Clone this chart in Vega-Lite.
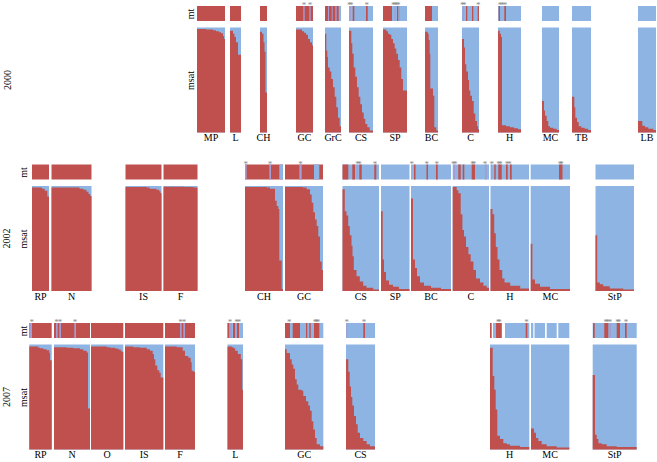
{
"$schema":"https://vega.github.io/schema/vega-lite/v6.json",
"autosize":{"type":"pad"},
"padding":{"left":1,"top":1,"right":0,"bottom":0},
"background":"white",
"spacing":16.5,
"datasets":{
"pops":[
{"r":2000,"p":"MP","s":169,"e":197},{"r":2000,"p":"L","s":202,"e":213},{"r":2000,"p":"CH","s":232,"e":239},{"r":2000,"p":"GC","s":268,"e":285},{"r":2000,"p":"GrC","s":297,"e":313},{"r":2000,"p":"CS","s":321,"e":345},{"r":2000,"p":"SP","s":355,"e":379},{"r":2000,"p":"BC","s":397,"e":410},{"r":2000,"p":"C","s":434,"e":451},{"r":2000,"p":"H","s":470,"e":493},{"r":2000,"p":"MC","s":514,"e":531},{"r":2000,"p":"TB","s":544,"e":563},{"r":2000,"p":"LB","s":610,"e":628},
{"r":2002,"p":"RP","s":4,"e":21},{"r":2002,"p":"N","s":23.5,"e":63.5},{"r":2002,"p":"IS","s":97.5,"e":133.5},{"r":2002,"p":"F","s":135.5,"e":169.5},{"r":2002,"p":"CH","s":217,"e":255},{"r":2002,"p":"GC","s":257,"e":295},{"r":2002,"p":"CS","s":314.5,"e":351},{"r":2002,"p":"SP","s":353,"e":381.5},{"r":2002,"p":"BC","s":383,"e":423},{"r":2002,"p":"C","s":424.7,"e":461},{"r":2002,"p":"H","s":462.5,"e":501},{"r":2002,"p":"MC","s":502.7,"e":542},{"r":2002,"p":"StP","s":567.5,"e":606},
{"r":2007,"p":"RP","s":1.3,"e":23.7},{"r":2007,"p":"N","s":26,"e":62},{"r":2007,"p":"O","s":63,"e":95.3},{"r":2007,"p":"IS","s":97,"e":135.3},{"r":2007,"p":"F","s":137,"e":167},{"r":2007,"p":"L","s":199.5,"e":215},{"r":2007,"p":"GC","s":257,"e":295.3},{"r":2007,"p":"CS","s":318,"e":347},{"r":2007,"p":"H","s":462,"e":501.3},{"r":2007,"p":"MC","s":503,"e":541.3},{"r":2007,"p":"StP","s":564.7,"e":608.7}
],
"msat":[
{"r":2000,"p":"MP","x":169,"q":0.985},{"r":2000,"p":"MP","x":178,"q":0.98},{"r":2000,"p":"MP","x":185,"q":0.975},{"r":2000,"p":"MP","x":188,"q":0.965},{"r":2000,"p":"MP","x":191,"q":0.955},{"r":2000,"p":"MP","x":193,"q":0.945},{"r":2000,"p":"MP","x":195,"q":0.92},{"r":2000,"p":"MP","x":196,"q":0.89},{"r":2000,"p":"MP","x":197,"q":0.89},
{"r":2000,"p":"L","x":202,"q":0.97},{"r":2000,"p":"L","x":205,"q":0.94},{"r":2000,"p":"L","x":206.5,"q":0.91},{"r":2000,"p":"L","x":208,"q":0.86},{"r":2000,"p":"L","x":210,"q":0.74},{"r":2000,"p":"L","x":213,"q":0.74},
{"r":2000,"p":"CH","x":232,"q":0.96},{"r":2000,"p":"CH","x":234,"q":0.94},{"r":2000,"p":"CH","x":235.5,"q":0.86},{"r":2000,"p":"CH","x":236.5,"q":0.77},{"r":2000,"p":"CH","x":237.5,"q":0.38},{"r":2000,"p":"CH","x":239,"q":0.38},
{"r":2000,"p":"GC","x":268,"q":0.98},{"r":2000,"p":"GC","x":274,"q":0.965},{"r":2000,"p":"GC","x":276,"q":0.95},{"r":2000,"p":"GC","x":278,"q":0.93},{"r":2000,"p":"GC","x":280,"q":0.89},{"r":2000,"p":"GC","x":282,"q":0.86},{"r":2000,"p":"GC","x":284,"q":0.83},{"r":2000,"p":"GC","x":285,"q":0.83},
{"r":2000,"p":"GrC","x":297,"q":0.94},{"r":2000,"p":"GrC","x":298.3,"q":0.78},{"r":2000,"p":"GrC","x":299.3,"q":0.72},{"r":2000,"p":"GrC","x":300,"q":0.62},{"r":2000,"p":"GrC","x":301.7,"q":0.58},{"r":2000,"p":"GrC","x":303.3,"q":0.51},{"r":2000,"p":"GrC","x":305,"q":0.43},{"r":2000,"p":"GrC","x":306.7,"q":0.34},{"r":2000,"p":"GrC","x":308.3,"q":0.24},{"r":2000,"p":"GrC","x":310,"q":0.14},{"r":2000,"p":"GrC","x":311.7,"q":0.06},{"r":2000,"p":"GrC","x":313,"q":0.06},
{"r":2000,"p":"CS","x":321,"q":0.97},{"r":2000,"p":"CS","x":323.3,"q":0.85},{"r":2000,"p":"CS","x":324.3,"q":0.75},{"r":2000,"p":"CS","x":325.7,"q":0.62},{"r":2000,"p":"CS","x":327.3,"q":0.53},{"r":2000,"p":"CS","x":329,"q":0.43},{"r":2000,"p":"CS","x":330.7,"q":0.34},{"r":2000,"p":"CS","x":332.3,"q":0.27},{"r":2000,"p":"CS","x":334,"q":0.19},{"r":2000,"p":"CS","x":335.7,"q":0.13},{"r":2000,"p":"CS","x":337.3,"q":0.08},{"r":2000,"p":"CS","x":339.3,"q":0.05},{"r":2000,"p":"CS","x":341.7,"q":0.02},{"r":2000,"p":"CS","x":345,"q":0.02},
{"r":2000,"p":"SP","x":355,"q":0.98},{"r":2000,"p":"SP","x":358.3,"q":0.965},{"r":2000,"p":"SP","x":360,"q":0.94},{"r":2000,"p":"SP","x":361.7,"q":0.93},{"r":2000,"p":"SP","x":363.3,"q":0.89},{"r":2000,"p":"SP","x":365,"q":0.85},{"r":2000,"p":"SP","x":366.7,"q":0.8},{"r":2000,"p":"SP","x":368.3,"q":0.75},{"r":2000,"p":"SP","x":370,"q":0.69},{"r":2000,"p":"SP","x":371.7,"q":0.62},{"r":2000,"p":"SP","x":373.3,"q":0.51},{"r":2000,"p":"SP","x":375,"q":0.4},{"r":2000,"p":"SP","x":379,"q":0.4},
{"r":2000,"p":"BC","x":397,"q":0.96},{"r":2000,"p":"BC","x":399.7,"q":0.94},{"r":2000,"p":"BC","x":400.7,"q":0.88},{"r":2000,"p":"BC","x":401.7,"q":0.75},{"r":2000,"p":"BC","x":402.3,"q":0.42},{"r":2000,"p":"BC","x":405,"q":0.35},{"r":2000,"p":"BC","x":406.3,"q":0.05},{"r":2000,"p":"BC","x":408.3,"q":0.02},{"r":2000,"p":"BC","x":410,"q":0.02},
{"r":2000,"p":"C","x":434,"q":0.89},{"r":2000,"p":"C","x":436,"q":0.81},{"r":2000,"p":"C","x":437,"q":0.65},{"r":2000,"p":"C","x":438.3,"q":0.58},{"r":2000,"p":"C","x":440,"q":0.5},{"r":2000,"p":"C","x":441,"q":0.4},{"r":2000,"p":"C","x":442.3,"q":0.35},{"r":2000,"p":"C","x":444,"q":0.3},{"r":2000,"p":"C","x":445.7,"q":0.18},{"r":2000,"p":"C","x":447.3,"q":0.11},{"r":2000,"p":"C","x":449,"q":0.06},{"r":2000,"p":"C","x":450,"q":0.03},{"r":2000,"p":"C","x":451,"q":0.03},
{"r":2000,"p":"H","x":470,"q":0.97},{"r":2000,"p":"H","x":471.7,"q":0.94},{"r":2000,"p":"H","x":473,"q":0.91},{"r":2000,"p":"H","x":474,"q":0.07},{"r":2000,"p":"H","x":478,"q":0.06},{"r":2000,"p":"H","x":482,"q":0.05},{"r":2000,"p":"H","x":486,"q":0.04},{"r":2000,"p":"H","x":490,"q":0.03},{"r":2000,"p":"H","x":493,"q":0.03},
{"r":2000,"p":"MC","x":514,"q":0.3},{"r":2000,"p":"MC","x":516,"q":0.21},{"r":2000,"p":"MC","x":517,"q":0.16},{"r":2000,"p":"MC","x":518.7,"q":0.11},{"r":2000,"p":"MC","x":520.3,"q":0.06},{"r":2000,"p":"MC","x":522,"q":0.045},{"r":2000,"p":"MC","x":525.3,"q":0.035},{"r":2000,"p":"MC","x":528.7,"q":0.025},{"r":2000,"p":"MC","x":531,"q":0.025},
{"r":2000,"p":"TB","x":544,"q":0.34},{"r":2000,"p":"TB","x":546.3,"q":0.24},{"r":2000,"p":"TB","x":547.3,"q":0.14},{"r":2000,"p":"TB","x":549,"q":0.1},{"r":2000,"p":"TB","x":550.7,"q":0.06},{"r":2000,"p":"TB","x":553.3,"q":0.045},{"r":2000,"p":"TB","x":556.7,"q":0.035},{"r":2000,"p":"TB","x":560,"q":0.025},{"r":2000,"p":"TB","x":563,"q":0.025},
{"r":2000,"p":"LB","x":610,"q":0.11},{"r":2000,"p":"LB","x":614.3,"q":0.065},{"r":2000,"p":"LB","x":617,"q":0.05},{"r":2000,"p":"LB","x":620.3,"q":0.035},{"r":2000,"p":"LB","x":625.3,"q":0.025},{"r":2000,"p":"LB","x":628,"q":0.025},
{"r":2002,"p":"RP","x":4,"q":0.985},{"r":2002,"p":"RP","x":14,"q":0.975},{"r":2002,"p":"RP","x":16.7,"q":0.955},{"r":2002,"p":"RP","x":19.3,"q":0.9},{"r":2002,"p":"RP","x":21,"q":0.9},
{"r":2002,"p":"N","x":23.5,"q":0.985},{"r":2002,"p":"N","x":51.5,"q":0.975},{"r":2002,"p":"N","x":55.5,"q":0.965},{"r":2002,"p":"N","x":58.5,"q":0.945},{"r":2002,"p":"N","x":60.5,"q":0.925},{"r":2002,"p":"N","x":62.2,"q":0.905},{"r":2002,"p":"N","x":63.5,"q":0.905},
{"r":2002,"p":"IS","x":97.5,"q":0.99},{"r":2002,"p":"IS","x":118.5,"q":0.985},{"r":2002,"p":"IS","x":121.5,"q":0.975},{"r":2002,"p":"IS","x":128.5,"q":0.965},{"r":2002,"p":"IS","x":131.2,"q":0.95},{"r":2002,"p":"IS","x":132.5,"q":0.93},{"r":2002,"p":"IS","x":133.5,"q":0.93},
{"r":2002,"p":"F","x":135.5,"q":0.992},{"r":2002,"p":"F","x":155.5,"q":0.99},{"r":2002,"p":"F","x":165.5,"q":0.985},{"r":2002,"p":"F","x":169.5,"q":0.985},
{"r":2002,"p":"CH","x":217,"q":0.99},{"r":2002,"p":"CH","x":238.7,"q":0.985},{"r":2002,"p":"CH","x":242,"q":0.975},{"r":2002,"p":"CH","x":247,"q":0.86},{"r":2002,"p":"CH","x":248.7,"q":0.81},{"r":2002,"p":"CH","x":250.3,"q":0.78},{"r":2002,"p":"CH","x":251.3,"q":0.29},{"r":2002,"p":"CH","x":253.7,"q":0.02},{"r":2002,"p":"CH","x":255,"q":0.02},
{"r":2002,"p":"GC","x":257,"q":0.99},{"r":2002,"p":"GC","x":275,"q":0.985},{"r":2002,"p":"GC","x":278.7,"q":0.97},{"r":2002,"p":"GC","x":282,"q":0.92},{"r":2002,"p":"GC","x":283.7,"q":0.84},{"r":2002,"p":"GC","x":285.3,"q":0.75},{"r":2002,"p":"GC","x":287,"q":0.68},{"r":2002,"p":"GC","x":288.7,"q":0.62},{"r":2002,"p":"GC","x":290.3,"q":0.52},{"r":2002,"p":"GC","x":292,"q":0.28},{"r":2002,"p":"GC","x":293.7,"q":0.2},{"r":2002,"p":"GC","x":295,"q":0.2},
{"r":2002,"p":"CS","x":314.5,"q":0.97},{"r":2002,"p":"CS","x":316.8,"q":0.76},{"r":2002,"p":"CS","x":318.5,"q":0.72},{"r":2002,"p":"CS","x":320.2,"q":0.62},{"r":2002,"p":"CS","x":321.8,"q":0.53},{"r":2002,"p":"CS","x":323.5,"q":0.43},{"r":2002,"p":"CS","x":324.5,"q":0.33},{"r":2002,"p":"CS","x":325.8,"q":0.2},{"r":2002,"p":"CS","x":328.5,"q":0.14},{"r":2002,"p":"CS","x":331.8,"q":0.09},{"r":2002,"p":"CS","x":335.2,"q":0.05},{"r":2002,"p":"CS","x":338.5,"q":0.03},{"r":2002,"p":"CS","x":345.2,"q":0.015},{"r":2002,"p":"CS","x":351,"q":0.015},
{"r":2002,"p":"SP","x":353,"q":0.76},{"r":2002,"p":"SP","x":354.7,"q":0.3},{"r":2002,"p":"SP","x":356,"q":0.18},{"r":2002,"p":"SP","x":358,"q":0.1},{"r":2002,"p":"SP","x":361,"q":0.06},{"r":2002,"p":"SP","x":365,"q":0.04},{"r":2002,"p":"SP","x":371,"q":0.02},{"r":2002,"p":"SP","x":381.5,"q":0.02},
{"r":2002,"p":"BC","x":383,"q":0.88},{"r":2002,"p":"BC","x":385,"q":0.3},{"r":2002,"p":"BC","x":387,"q":0.22},{"r":2002,"p":"BC","x":389,"q":0.14},{"r":2002,"p":"BC","x":392,"q":0.08},{"r":2002,"p":"BC","x":396,"q":0.05},{"r":2002,"p":"BC","x":403,"q":0.03},{"r":2002,"p":"BC","x":413,"q":0.02},{"r":2002,"p":"BC","x":423,"q":0.02},
{"r":2002,"p":"C","x":424.7,"q":0.99},{"r":2002,"p":"C","x":428.7,"q":0.96},{"r":2002,"p":"C","x":430.4,"q":0.93},{"r":2002,"p":"C","x":432.7,"q":0.73},{"r":2002,"p":"C","x":434.4,"q":0.58},{"r":2002,"p":"C","x":436,"q":0.52},{"r":2002,"p":"C","x":438,"q":0.42},{"r":2002,"p":"C","x":440.4,"q":0.35},{"r":2002,"p":"C","x":442.7,"q":0.28},{"r":2002,"p":"C","x":445.4,"q":0.2},{"r":2002,"p":"C","x":448,"q":0.12},{"r":2002,"p":"C","x":452,"q":0.08},{"r":2002,"p":"C","x":455.4,"q":0.05},{"r":2002,"p":"C","x":458.7,"q":0.03},{"r":2002,"p":"C","x":461,"q":0.03},
{"r":2002,"p":"H","x":462.5,"q":0.78},{"r":2002,"p":"H","x":464.5,"q":0.73},{"r":2002,"p":"H","x":466.2,"q":0.55},{"r":2002,"p":"H","x":467.8,"q":0.42},{"r":2002,"p":"H","x":469.5,"q":0.3},{"r":2002,"p":"H","x":471.5,"q":0.2},{"r":2002,"p":"H","x":474.2,"q":0.12},{"r":2002,"p":"H","x":476.5,"q":0.08},{"r":2002,"p":"H","x":482.2,"q":0.05},{"r":2002,"p":"H","x":492.2,"q":0.025},{"r":2002,"p":"H","x":501,"q":0.025},
{"r":2002,"p":"MC","x":502.7,"q":0.45},{"r":2002,"p":"MC","x":504.4,"q":0.11},{"r":2002,"p":"MC","x":507,"q":0.07},{"r":2002,"p":"MC","x":512,"q":0.04},{"r":2002,"p":"MC","x":522,"q":0.02},{"r":2002,"p":"MC","x":542,"q":0.02},
{"r":2002,"p":"StP","x":567.5,"q":0.53},{"r":2002,"p":"StP","x":569.2,"q":0.08},{"r":2002,"p":"StP","x":571.8,"q":0.065},{"r":2002,"p":"StP","x":575.2,"q":0.045},{"r":2002,"p":"StP","x":581.8,"q":0.025},{"r":2002,"p":"StP","x":595.2,"q":0.015},{"r":2002,"p":"StP","x":606,"q":0.015},
{"r":2007,"p":"RP","x":1.3,"q":0.98},{"r":2007,"p":"RP","x":10.3,"q":0.97},{"r":2007,"p":"RP","x":12,"q":0.965},{"r":2007,"p":"RP","x":15.3,"q":0.955},{"r":2007,"p":"RP","x":18.6,"q":0.945},{"r":2007,"p":"RP","x":21.3,"q":0.92},{"r":2007,"p":"RP","x":22,"q":0.85},{"r":2007,"p":"RP","x":23.7,"q":0.85},
{"r":2007,"p":"N","x":26,"q":0.975},{"r":2007,"p":"N","x":38.7,"q":0.97},{"r":2007,"p":"N","x":45.3,"q":0.965},{"r":2007,"p":"N","x":52,"q":0.955},{"r":2007,"p":"N","x":55.3,"q":0.94},{"r":2007,"p":"N","x":58.7,"q":0.925},{"r":2007,"p":"N","x":60,"q":0.39},{"r":2007,"p":"N","x":62,"q":0.39},
{"r":2007,"p":"O","x":63,"q":0.98},{"r":2007,"p":"O","x":78.7,"q":0.975},{"r":2007,"p":"O","x":82,"q":0.97},{"r":2007,"p":"O","x":87,"q":0.962},{"r":2007,"p":"O","x":90.3,"q":0.952},{"r":2007,"p":"O","x":92.7,"q":0.94},{"r":2007,"p":"O","x":93.7,"q":0.93},{"r":2007,"p":"O","x":95.3,"q":0.93},
{"r":2007,"p":"IS","x":97,"q":0.98},{"r":2007,"p":"IS","x":105.3,"q":0.975},{"r":2007,"p":"IS","x":112,"q":0.97},{"r":2007,"p":"IS","x":118.7,"q":0.955},{"r":2007,"p":"IS","x":122,"q":0.94},{"r":2007,"p":"IS","x":124.7,"q":0.91},{"r":2007,"p":"IS","x":126,"q":0.86},{"r":2007,"p":"IS","x":127.3,"q":0.8},{"r":2007,"p":"IS","x":129.3,"q":0.755},{"r":2007,"p":"IS","x":131.3,"q":0.73},{"r":2007,"p":"IS","x":132.7,"q":0.685},{"r":2007,"p":"IS","x":135.3,"q":0.685},
{"r":2007,"p":"F","x":137,"q":0.98},{"r":2007,"p":"F","x":148.7,"q":0.975},{"r":2007,"p":"F","x":154.7,"q":0.94},{"r":2007,"p":"F","x":157,"q":0.89},{"r":2007,"p":"F","x":160.3,"q":0.875},{"r":2007,"p":"F","x":162.7,"q":0.83},{"r":2007,"p":"F","x":163.7,"q":0.75},{"r":2007,"p":"F","x":165.3,"q":0.74},{"r":2007,"p":"F","x":167,"q":0.74},
{"r":2007,"p":"L","x":199.5,"q":0.98},{"r":2007,"p":"L","x":203.8,"q":0.975},{"r":2007,"p":"L","x":205.5,"q":0.965},{"r":2007,"p":"L","x":207.2,"q":0.94},{"r":2007,"p":"L","x":209.8,"q":0.91},{"r":2007,"p":"L","x":212.8,"q":0.86},{"r":2007,"p":"L","x":214.2,"q":0.57},{"r":2007,"p":"L","x":215,"q":0.57},
{"r":2007,"p":"GC","x":257,"q":0.955},{"r":2007,"p":"GC","x":258.7,"q":0.92},{"r":2007,"p":"GC","x":262,"q":0.86},{"r":2007,"p":"GC","x":263.7,"q":0.81},{"r":2007,"p":"GC","x":265.3,"q":0.77},{"r":2007,"p":"GC","x":267,"q":0.67},{"r":2007,"p":"GC","x":268.7,"q":0.62},{"r":2007,"p":"GC","x":270.3,"q":0.57},{"r":2007,"p":"GC","x":273.7,"q":0.56},{"r":2007,"p":"GC","x":275.3,"q":0.51},{"r":2007,"p":"GC","x":278,"q":0.46},{"r":2007,"p":"GC","x":280.3,"q":0.42},{"r":2007,"p":"GC","x":282,"q":0.37},{"r":2007,"p":"GC","x":283.7,"q":0.27},{"r":2007,"p":"GC","x":285.3,"q":0.19},{"r":2007,"p":"GC","x":287,"q":0.11},{"r":2007,"p":"GC","x":288.7,"q":0.05},{"r":2007,"p":"GC","x":292,"q":0.03},{"r":2007,"p":"GC","x":295.3,"q":0.03},
{"r":2007,"p":"CS","x":318,"q":0.86},{"r":2007,"p":"CS","x":320.3,"q":0.74},{"r":2007,"p":"CS","x":321.7,"q":0.6},{"r":2007,"p":"CS","x":323,"q":0.5},{"r":2007,"p":"CS","x":324.3,"q":0.42},{"r":2007,"p":"CS","x":326,"q":0.32},{"r":2007,"p":"CS","x":328,"q":0.24},{"r":2007,"p":"CS","x":329.7,"q":0.16},{"r":2007,"p":"CS","x":332,"q":0.11},{"r":2007,"p":"CS","x":335.3,"q":0.08},{"r":2007,"p":"CS","x":338.7,"q":0.05},{"r":2007,"p":"CS","x":342,"q":0.03},{"r":2007,"p":"CS","x":347,"q":0.03},
{"r":2007,"p":"H","x":462,"q":0.97},{"r":2007,"p":"H","x":464.7,"q":0.7},{"r":2007,"p":"H","x":466.3,"q":0.57},{"r":2007,"p":"H","x":467.7,"q":0.38},{"r":2007,"p":"H","x":469.3,"q":0.13},{"r":2007,"p":"H","x":472,"q":0.1},{"r":2007,"p":"H","x":475.3,"q":0.06},{"r":2007,"p":"H","x":478.7,"q":0.05},{"r":2007,"p":"H","x":482,"q":0.035},{"r":2007,"p":"H","x":492,"q":0.025},{"r":2007,"p":"H","x":501.3,"q":0.025},
{"r":2007,"p":"MC","x":503,"q":0.2},{"r":2007,"p":"MC","x":506,"q":0.16},{"r":2007,"p":"MC","x":508,"q":0.11},{"r":2007,"p":"MC","x":510.3,"q":0.08},{"r":2007,"p":"MC","x":513.7,"q":0.05},{"r":2007,"p":"MC","x":518.7,"q":0.03},{"r":2007,"p":"MC","x":528.7,"q":0.02},{"r":2007,"p":"MC","x":541.3,"q":0.02},
{"r":2007,"p":"StP","x":564.7,"q":0.71},{"r":2007,"p":"StP","x":567,"q":0.14},{"r":2007,"p":"StP","x":568.7,"q":0.1},{"r":2007,"p":"StP","x":570.4,"q":0.06},{"r":2007,"p":"StP","x":573.7,"q":0.05},{"r":2007,"p":"StP","x":578.7,"q":0.03},{"r":2007,"p":"StP","x":588.7,"q":0.025},{"r":2007,"p":"StP","x":608.7,"q":0.025}
],
"mt":[
{"r":2000,"a":169,"b":197,"h":"R"},{"r":2000,"a":202,"b":213,"h":"R"},{"r":2000,"a":232,"b":239,"h":"R"},
{"r":2000,"a":268,"b":285,"h":"R"},{"r":2000,"a":275.3,"b":276.7,"h":"M"},{"r":2000,"a":281.3,"b":282.7,"h":"M"},
{"r":2000,"a":297,"b":313,"h":"R"},{"r":2000,"a":300,"b":301,"h":"M"},{"r":2000,"a":303.7,"b":304.7,"h":"M"},{"r":2000,"a":307.3,"b":308.7,"h":"M"},{"r":2000,"a":310.7,"b":313,"h":"B"},
{"r":2000,"a":321,"b":345,"h":"B"},{"r":2000,"a":321.3,"b":322.7,"h":"M"},{"r":2000,"a":324.7,"b":326.3,"h":"R"},{"r":2000,"a":338,"b":339.7,"h":"R"},
{"r":2000,"a":355,"b":364,"h":"R"},{"r":2000,"a":364,"b":379,"h":"B"},{"r":2000,"a":366.5,"b":367.5,"h":"M"},{"r":2000,"a":369,"b":370.3,"h":"R"},{"r":2000,"a":371,"b":372,"h":"M"},
{"r":2000,"a":397,"b":404,"h":"R"},{"r":2000,"a":404,"b":410,"h":"B"},
{"r":2000,"a":434,"b":451,"h":"B"},{"r":2000,"a":434.7,"b":435.7,"h":"M"},{"r":2000,"a":438,"b":439.3,"h":"R"},{"r":2000,"a":444,"b":445.3,"h":"R"},{"r":2000,"a":449.7,"b":451,"h":"R"},
{"r":2000,"a":470,"b":493,"h":"B"},{"r":2000,"a":470.7,"b":472,"h":"R"},{"r":2000,"a":476.3,"b":478,"h":"R"},
{"r":2000,"a":514,"b":531,"h":"B"},{"r":2000,"a":544,"b":563,"h":"B"},{"r":2000,"a":610,"b":628,"h":"B"},
{"r":2002,"a":4,"b":21,"h":"R"},{"r":2002,"a":23.5,"b":63.5,"h":"R"},{"r":2002,"a":97.5,"b":133.5,"h":"R"},{"r":2002,"a":135.5,"b":169.5,"h":"R"},
{"r":2002,"a":217,"b":255,"h":"R"},{"r":2002,"a":217,"b":218.7,"h":"M"},{"r":2002,"a":241.3,"b":243,"h":"M"},{"r":2002,"a":251.3,"b":255,"h":"B"},
{"r":2002,"a":257,"b":295,"h":"R"},{"r":2002,"a":271.3,"b":273.7,"h":"M"},{"r":2002,"a":286,"b":291.3,"h":"B"},
{"r":2002,"a":314.5,"b":351,"h":"B"},{"r":2002,"a":314.5,"b":320.3,"h":"R"},{"r":2002,"a":324.3,"b":327,"h":"R"},{"r":2002,"a":328.7,"b":329.7,"h":"M"},{"r":2002,"a":331.3,"b":333.7,"h":"R"},{"r":2002,"a":346.3,"b":348.3,"h":"R"},
{"r":2002,"a":353,"b":381.5,"h":"B"},
{"r":2002,"a":383,"b":423,"h":"B"},{"r":2002,"a":386,"b":387.5,"h":"R"},{"r":2002,"a":398.5,"b":400,"h":"R"},{"r":2002,"a":408,"b":409.7,"h":"R"},
{"r":2002,"a":424.7,"b":461,"h":"B"},{"r":2002,"a":425.3,"b":427,"h":"M"},{"r":2002,"a":430.3,"b":432.7,"h":"R"},{"r":2002,"a":434.7,"b":436.3,"h":"R"},{"r":2002,"a":443.7,"b":447,"h":"R"},{"r":2002,"a":457,"b":458.7,"h":"M"},
{"r":2002,"a":462.5,"b":501,"h":"B"},{"r":2002,"a":463,"b":464,"h":"M"},{"r":2002,"a":466.3,"b":467.7,"h":"R"},{"r":2002,"a":470.3,"b":473.7,"h":"R"},{"r":2002,"a":478,"b":479.7,"h":"R"},{"r":2002,"a":482,"b":483.7,"h":"R"},
{"r":2002,"a":502.7,"b":542,"h":"B"},{"r":2002,"a":531,"b":534.5,"h":"R"},
{"r":2002,"a":567.5,"b":606,"h":"B"},
{"r":2007,"a":1.3,"b":23.7,"h":"R"},{"r":2007,"a":2,"b":4,"h":"M"},
{"r":2007,"a":26,"b":62,"h":"R"},{"r":2007,"a":28,"b":29.7,"h":"M"},{"r":2007,"a":31.3,"b":33,"h":"M"},{"r":2007,"a":46.3,"b":48,"h":"M"},
{"r":2007,"a":63,"b":95.3,"h":"R"},{"r":2007,"a":97,"b":135.3,"h":"R"},
{"r":2007,"a":137,"b":167,"h":"R"},{"r":2007,"a":152,"b":153.7,"h":"M"},{"r":2007,"a":155.3,"b":157,"h":"M"},
{"r":2007,"a":199.5,"b":215,"h":"B"},{"r":2007,"a":199.5,"b":201.3,"h":"R"},{"r":2007,"a":202,"b":204,"h":"M"},{"r":2007,"a":205,"b":207,"h":"R"},{"r":2007,"a":207,"b":208.5,"h":"M"},{"r":2007,"a":209,"b":211,"h":"R"},
{"r":2007,"a":257,"b":295.3,"h":"B"},{"r":2007,"a":257,"b":262,"h":"R"},{"r":2007,"a":264.7,"b":272,"h":"R"},{"r":2007,"a":278,"b":279.3,"h":"R"},{"r":2007,"a":281.3,"b":282.7,"h":"R"},{"r":2007,"a":286,"b":291.3,"h":"R"},
{"r":2007,"a":318,"b":347,"h":"B"},{"r":2007,"a":318.3,"b":319.5,"h":"M"},{"r":2007,"a":335.3,"b":337,"h":"R"},
{"r":2007,"a":462,"b":463.7,"h":"R"},{"r":2007,"a":465,"b":473.7,"h":"B"},{"r":2007,"a":468,"b":473.7,"h":"R"},{"r":2007,"a":477,"b":501.3,"h":"B"},{"r":2007,"a":497.7,"b":499.3,"h":"R"},
{"r":2007,"a":503,"b":505.3,"h":"B"},{"r":2007,"a":506.5,"b":517,"h":"B"},{"r":2007,"a":518.7,"b":528.7,"h":"B"},{"r":2007,"a":530.3,"b":541.3,"h":"B"},
{"r":2007,"a":564.7,"b":608.7,"h":"B"},{"r":2007,"a":565,"b":566.7,"h":"R"},{"r":2007,"a":576.3,"b":580.3,"h":"R"},{"r":2007,"a":581.3,"b":583,"h":"M"},{"r":2007,"a":588.7,"b":592,"h":"R"},{"r":2007,"a":597,"b":598.7,"h":"R"}
],
"ast":[
{"r":2000,"x":276},{"r":2000,"x":282},{"r":2000,"x":321.3},{"r":2000,"x":323.3},{"r":2000,"x":338.7},{"r":2000,"x":365.3},{"r":2000,"x":367},{"r":2000,"x":368.7},{"r":2000,"x":370.3},{"r":2000,"x":434.3},{"r":2000,"x":436.3},{"r":2000,"x":450.3},{"r":2000,"x":472},{"r":2000,"x":474.3},{"r":2000,"x":477},
{"r":2002,"x":217.8},{"r":2002,"x":242},{"r":2002,"x":272.5},{"r":2002,"x":329.5},{"r":2002,"x":331.5},{"r":2002,"x":347},{"r":2002,"x":383.7},{"r":2002,"x":398.7},{"r":2002,"x":408.7},{"r":2002,"x":425.3},{"r":2002,"x":427.3},{"r":2002,"x":444.5},{"r":2002,"x":446},{"r":2002,"x":457},{"r":2002,"x":463.7},{"r":2002,"x":470.5},{"r":2002,"x":472.5},{"r":2002,"x":479},{"r":2002,"x":481.5},{"r":2002,"x":532},{"r":2002,"x":533.5},
{"r":2007,"x":3.7},{"r":2007,"x":28.5},{"r":2007,"x":32},{"r":2007,"x":47},{"r":2007,"x":152.5},{"r":2007,"x":156},{"r":2007,"x":202},{"r":2007,"x":208.5},{"r":2007,"x":211},{"r":2007,"x":261.3},{"r":2007,"x":287},{"r":2007,"x":288.5},{"r":2007,"x":290},{"r":2007,"x":318.7},{"r":2007,"x":336},{"r":2007,"x":470},{"r":2007,"x":471.5},{"r":2007,"x":498.5},{"r":2007,"x":577.7},{"r":2007,"x":579.5},{"r":2007,"x":582},{"r":2007,"x":589.5},{"r":2007,"x":591},{"r":2007,"x":598}
]
},
"vconcat":[
{"bounds":"flush","spacing":6.5,"vconcat":[
 {"width":629,"height":15,"layer":[
  {"data":{"name":"mt"},"transform":[{"filter":"datum.r == 2000"}],"mark":{"type":"rect"},
   "encoding":{"x":{"field":"a","type":"quantitative","scale":{"domain":[0,629],"nice":false,"zero":false},"axis":null},"x2":{"field":"b"},
   "y":{"datum":0,"type":"quantitative","scale":{"domain":[0,1],"nice":false},"axis":{"title":"mt","offset":-167}},"y2":{"datum":1},
   "color":{"field":"h","type":"nominal","scale":{"domain":["R","B","M"],"range":["#c0504d","#8db4e2","#a29dd2"]},"legend":null}}},
  {"data":{"name":"ast"},"transform":[{"filter":"datum.r == 2000"}],"mark":{"type":"text","text":"*","baseline":"alphabetic","dy":2,"fontSize":9,"color":"#8a8a8a"},
   "encoding":{"x":{"field":"x","type":"quantitative","scale":{"domain":[0,629],"nice":false,"zero":false},"axis":null},"y":{"datum":1,"type":"quantitative","axis":{"title":"mt","offset":-167}}}}
 ]},
 {"width":629,"height":105,"title":{"text":"2000","orient":"left","frame":"group","anchor":"middle","baseline":"alphabetic","offset":7.5},"layer":[
  {"data":{"name":"pops"},"transform":[{"filter":"datum.r == 2000"}],"mark":{"type":"rect","color":"#8db4e2"},
   "encoding":{"x":{"field":"s","type":"quantitative","scale":{"domain":[0,629],"nice":false,"zero":false},"axis":null},"x2":{"field":"e"},
   "y":{"datum":0,"type":"quantitative","scale":{"domain":[0,1],"nice":false},"axis":{"title":"msat","offset":-167}},"y2":{"datum":1}}},
  {"data":{"name":"msat"},"transform":[{"filter":"datum.r == 2000"}],"mark":{"type":"area","interpolate":"step-after","color":"#c0504d"},
   "encoding":{"x":{"field":"x","type":"quantitative","scale":{"domain":[0,629],"nice":false,"zero":false},"axis":null},
   "y":{"field":"q","type":"quantitative","stack":null,"axis":{"title":"msat","offset":-167}},"detail":{"field":"p","type":"nominal"}}},
  {"data":{"name":"pops"},"transform":[{"filter":"datum.r == 2000"},{"fold":["s","e"]}],"mark":{"type":"text","baseline":"top","dy":0.5,"fontSize":10,"color":"black"},
   "encoding":{"x":{"field":"value","aggregate":"mean","type":"quantitative","scale":{"domain":[0,629],"nice":false,"zero":false},"axis":null},
   "y":{"datum":0,"type":"quantitative","axis":{"title":"msat","offset":-167}},"text":{"field":"p","type":"nominal"}}}
 ]}
]},
{"bounds":"flush","spacing":6.5,"vconcat":[
 {"width":629,"height":15,"layer":[
  {"data":{"name":"mt"},"transform":[{"filter":"datum.r == 2002"}],"mark":{"type":"rect"},
   "encoding":{"x":{"field":"a","type":"quantitative","scale":{"domain":[0,629],"nice":false,"zero":false},"axis":null},"x2":{"field":"b"},
   "y":{"datum":0,"type":"quantitative","scale":{"domain":[0,1],"nice":false},"axis":{"title":"mt"}},"y2":{"datum":1},
   "color":{"field":"h","type":"nominal","scale":{"domain":["R","B","M"],"range":["#c0504d","#8db4e2","#a29dd2"]},"legend":null}}},
  {"data":{"name":"ast"},"transform":[{"filter":"datum.r == 2002"}],"mark":{"type":"text","text":"*","baseline":"alphabetic","dy":2,"fontSize":9,"color":"#8a8a8a"},
   "encoding":{"x":{"field":"x","type":"quantitative","scale":{"domain":[0,629],"nice":false,"zero":false},"axis":null},"y":{"datum":1,"type":"quantitative","axis":{"title":"mt"}}}}
 ]},
 {"width":629,"height":105,"title":{"text":"2002","orient":"left","frame":"group","anchor":"middle","baseline":"alphabetic","offset":-1.5},"layer":[
  {"data":{"name":"pops"},"transform":[{"filter":"datum.r == 2002"}],"mark":{"type":"rect","color":"#8db4e2"},
   "encoding":{"x":{"field":"s","type":"quantitative","scale":{"domain":[0,629],"nice":false,"zero":false},"axis":null},"x2":{"field":"e"},
   "y":{"datum":0,"type":"quantitative","scale":{"domain":[0,1],"nice":false},"axis":{"title":"msat"}},"y2":{"datum":1}}},
  {"data":{"name":"msat"},"transform":[{"filter":"datum.r == 2002"}],"mark":{"type":"area","interpolate":"step-after","color":"#c0504d"},
   "encoding":{"x":{"field":"x","type":"quantitative","scale":{"domain":[0,629],"nice":false,"zero":false},"axis":null},
   "y":{"field":"q","type":"quantitative","stack":null,"axis":{"title":"msat"}},"detail":{"field":"p","type":"nominal"}}},
  {"data":{"name":"pops"},"transform":[{"filter":"datum.r == 2002"},{"fold":["s","e"]}],"mark":{"type":"text","baseline":"top","dy":0.5,"fontSize":10,"color":"black"},
   "encoding":{"x":{"field":"value","aggregate":"mean","type":"quantitative","scale":{"domain":[0,629],"nice":false,"zero":false},"axis":null},
   "y":{"datum":0,"type":"quantitative","axis":{"title":"msat"}},"text":{"field":"p","type":"nominal"}}}
 ]}
]},
{"bounds":"flush","spacing":6.5,"vconcat":[
 {"width":629,"height":15,"layer":[
  {"data":{"name":"mt"},"transform":[{"filter":"datum.r == 2007"}],"mark":{"type":"rect"},
   "encoding":{"x":{"field":"a","type":"quantitative","scale":{"domain":[0,629],"nice":false,"zero":false},"axis":null},"x2":{"field":"b"},
   "y":{"datum":0,"type":"quantitative","scale":{"domain":[0,1],"nice":false},"axis":{"title":"mt"}},"y2":{"datum":1},
   "color":{"field":"h","type":"nominal","scale":{"domain":["R","B","M"],"range":["#c0504d","#8db4e2","#a29dd2"]},"legend":null}}},
  {"data":{"name":"ast"},"transform":[{"filter":"datum.r == 2007"}],"mark":{"type":"text","text":"*","baseline":"alphabetic","dy":2,"fontSize":9,"color":"#8a8a8a"},
   "encoding":{"x":{"field":"x","type":"quantitative","scale":{"domain":[0,629],"nice":false,"zero":false},"axis":null},"y":{"datum":1,"type":"quantitative","axis":{"title":"mt"}}}}
 ]},
 {"width":629,"height":105,"title":{"text":"2007","orient":"left","frame":"group","anchor":"middle","baseline":"alphabetic","offset":-1.5},"layer":[
  {"data":{"name":"pops"},"transform":[{"filter":"datum.r == 2007"}],"mark":{"type":"rect","color":"#8db4e2"},
   "encoding":{"x":{"field":"s","type":"quantitative","scale":{"domain":[0,629],"nice":false,"zero":false},"axis":null},"x2":{"field":"e"},
   "y":{"datum":0,"type":"quantitative","scale":{"domain":[0,1],"nice":false},"axis":{"title":"msat"}},"y2":{"datum":1}}},
  {"data":{"name":"msat"},"transform":[{"filter":"datum.r == 2007"}],"mark":{"type":"area","interpolate":"step-after","color":"#c0504d"},
   "encoding":{"x":{"field":"x","type":"quantitative","scale":{"domain":[0,629],"nice":false,"zero":false},"axis":null},
   "y":{"field":"q","type":"quantitative","stack":null,"axis":{"title":"msat"}},"detail":{"field":"p","type":"nominal"}}},
  {"data":{"name":"pops"},"transform":[{"filter":"datum.r == 2007"},{"fold":["s","e"]}],"mark":{"type":"text","baseline":"top","dy":0,"fontSize":10,"color":"black"},
   "encoding":{"x":{"field":"value","aggregate":"mean","type":"quantitative","scale":{"domain":[0,629],"nice":false,"zero":false},"axis":null},
   "y":{"datum":0,"type":"quantitative","axis":{"title":"msat"}},"text":{"field":"p","type":"nominal"}}}
 ]}
]}
],
"config":{
 "view":{"stroke":null},
 "font":"Liberation Serif",
 "axis":{"domain":false,"ticks":false,"labels":false,"grid":false,"titleFont":"Liberation Serif","titleFontSize":10,"titleFontWeight":"normal","titleColor":"black","titlePadding":2,"titleBaseline":"alphabetic"},
 "title":{"font":"Liberation Serif","fontSize":10,"fontWeight":"normal","color":"black"},
 "text":{"font":"Liberation Serif"}
}
}
